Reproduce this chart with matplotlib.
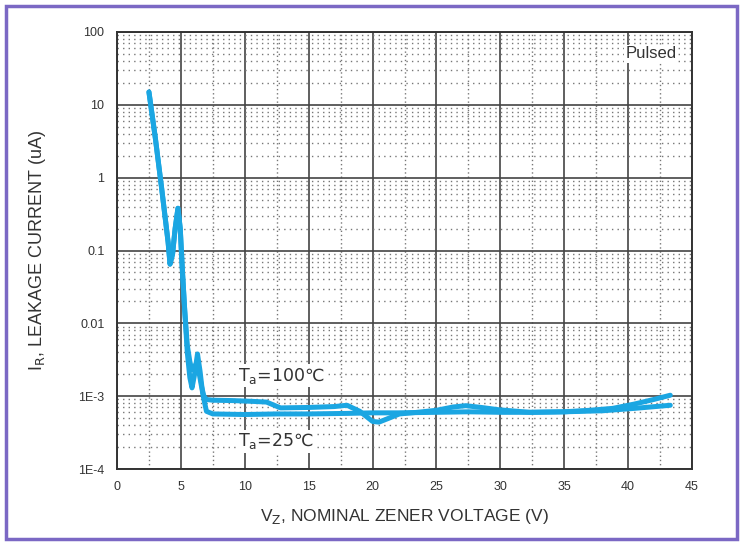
import matplotlib
matplotlib.use("Agg")
import matplotlib.pyplot as plt
from matplotlib.ticker import FixedLocator, LogLocator, NullFormatter
from matplotlib.patches import Rectangle
import numpy as np

plt.rcParams['font.family'] = ['Liberation Sans', 'DejaVu Sans']

# curve: upper trace (Ta=100C)
v_hot = [2.5, 3.0, 3.5, 4.0, 4.15, 4.35, 4.55, 4.77, 4.95, 5.1, 5.3, 5.5, 5.7, 5.85,
         6.05, 6.2, 6.4, 6.6, 6.8, 7.0, 7.5, 9.0, 10.5, 11.7, 12.3, 12.8, 15.0, 17.0,
         18.0, 19.0, 20.0, 20.5, 21.3, 22.1, 23.5, 25.0, 26.3, 27.3, 28.5, 29.9, 32.3,
         35.0, 37.0, 38.8, 40.5, 42.0, 43.3]
i_hot = [15, 3.5, 0.7, 0.13, 0.065, 0.09, 0.2, 0.38, 0.2, 0.06, 0.015, 0.005, 0.003,
         0.0023, 0.0025, 0.0028, 0.0022, 0.0014, 0.001, 0.0009, 0.00088, 0.00087,
         0.00085, 0.00083, 0.00075, 0.00069, 0.0007, 0.00072, 0.00075, 0.00062,
         0.00045, 0.00044, 0.0005, 0.00057, 0.0006, 0.00064, 0.00071, 0.00074,
         0.0007, 0.00065, 0.0006, 0.00061, 0.00064, 0.00068, 0.00078, 0.0009, 0.00103]

# lower trace (Ta=25C)
v_cold = [2.5, 3.0, 3.5, 4.0, 4.15, 4.35, 4.55, 4.77, 4.95, 5.1, 5.3, 5.5, 5.7, 5.87,
          6.05, 6.3, 6.5, 6.7, 7.0, 7.5, 10.0, 12.5, 15.0, 18.0, 20.0, 22.0, 25.0,
          27.5, 30.0, 32.5, 35.0, 38.0, 40.5, 43.3]
i_cold = [15, 3.5, 0.7, 0.13, 0.065, 0.09, 0.2, 0.38, 0.2, 0.06, 0.015, 0.004, 0.0018,
          0.0013, 0.0019, 0.0038, 0.0022, 0.0011, 0.00062, 0.00057, 0.00056, 0.00057,
          0.00057, 0.00058, 0.00059, 0.00059, 0.0006, 0.00061, 0.0006, 0.0006,
          0.00061, 0.00063, 0.00068, 0.00075]

x_ticks = [0, 5, 10, 15, 20, 25, 30, 35, 40, 45]
y_ticks = [1e-4, 1e-3, 1e-2, 1e-1, 1, 10, 100]
y_labels = ['1E-4', '1E-3', '0.01', '0.1', '1', '10', '100']

fig = plt.figure(figsize=(7.43, 5.45), dpi=100)
ax = fig.add_axes([117/743, 1-469/545, 575/743, 437/545])

blue = '#1ba6e2'
ax.plot(v_hot, i_hot, color=blue, lw=3.6, solid_capstyle='round', solid_joinstyle='round', zorder=3)
ax.plot(v_cold, i_cold, color=blue, lw=3.6, solid_capstyle='round', solid_joinstyle='round', zorder=3)

ax.set_yscale('log')
ax.set_xlim(0, 45)
ax.set_ylim(1e-4, 100)
ax.set_xticks(x_ticks)
ax.set_yticks(y_ticks)
ax.set_yticklabels(y_labels)
ax.xaxis.set_minor_locator(FixedLocator(np.arange(2.5, 45, 5)))
ax.yaxis.set_minor_locator(LogLocator(base=10, subs=np.arange(2, 10)))
ax.yaxis.set_minor_formatter(NullFormatter())
ax.tick_params(which='both', length=0, labelsize=9, labelcolor='#333333', pad=9)

ax.grid(which='major', color='#444444', lw=1.2)
ax.grid(which='minor', axis='y', color='#777777', lw=1.0, ls=(0, (1, 3)))
ax.grid(which='minor', axis='x', color='#777777', lw=1.0, ls=(0, (1, 2)))
ax.set_axisbelow(True)
for s in ax.spines.values():
    s.set_color('#333333')
    s.set_linewidth(1.4)

ax.set_xlabel(r'V$_\mathrm{Z}$, NOMINAL ZENER VOLTAGE (V)', fontsize=12.5, color='#333333', labelpad=10)
ax.set_ylabel(r'I$_\mathrm{R}$, LEAKAGE CURRENT (uA)', fontsize=13, color='#333333', labelpad=22)

box = dict(facecolor='white', edgecolor='none', pad=1)
ax.text(9.5, 0.0019, r'T$_\mathrm{a}$=100℃', fontsize=12.5, family='DejaVu Sans', color='#333333',
        va='center', bbox=box)
ax.text(9.5, 0.00024, r'T$_\mathrm{a}$=25℃', fontsize=12.5, family='DejaVu Sans', color='#333333',
        va='center', bbox=box)
ax.text(39.8, 50, 'Pulsed', fontsize=12, color='#333333', va='center', bbox=box)

fig.patches.append(Rectangle((6/743, 6/545), 731/743, 533/545, transform=fig.transFigure,
                             fill=False, edgecolor='#7b68c4', lw=2.5))

fig.savefig('out.png', dpi=100)
